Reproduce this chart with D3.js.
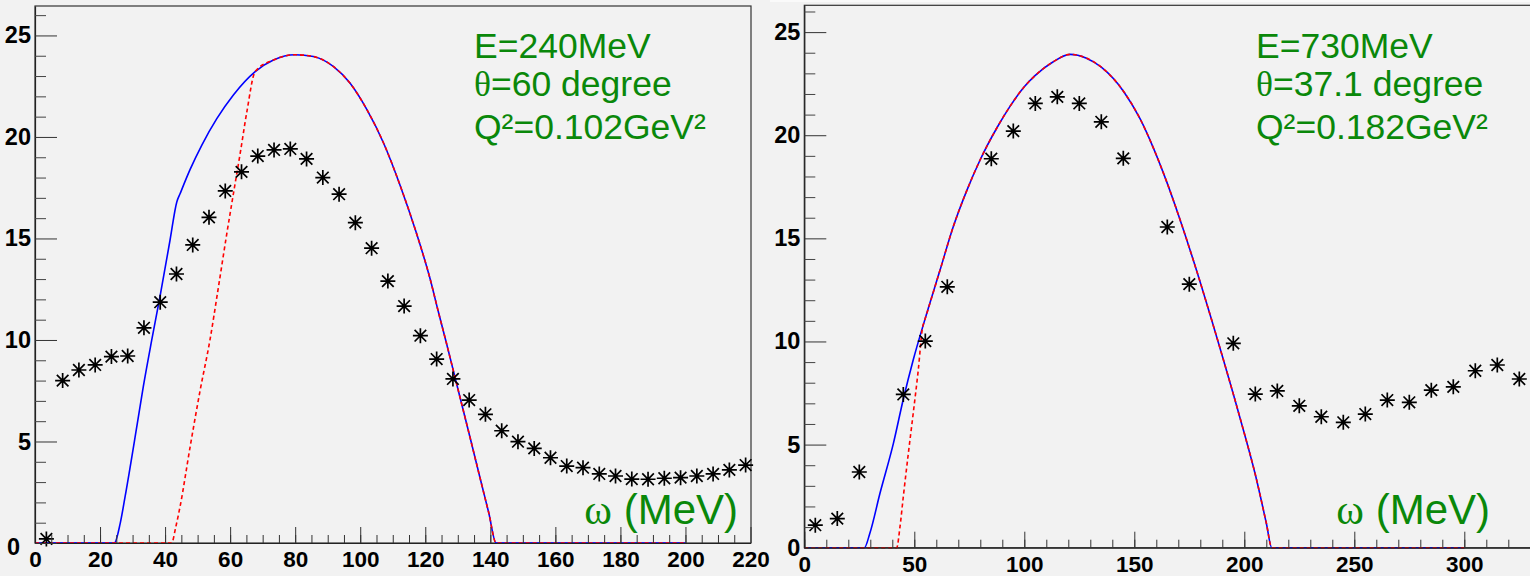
<!DOCTYPE html>
<html><head><meta charset="utf-8">
<script src="https://cdn.jsdelivr.net/npm/d3@7"></script>
<style>
html,body{margin:0;padding:0;background:#f2f2f2;overflow:hidden;}
svg{display:block;}
</style></head><body>
<svg id="chart" width="1530" height="576"></svg>
<script>
// ---------- Data: left panel (E=240 MeV) ----------
const omega240 = [3.5,8.5,13.5,18.5,23.5,28.5,33.5,38.5,43.5,48.5,53.5,58.5,63.5,68.5,73.5,78.5,83.5,88.5,93.5,98.5,103.5,108.5,113.5,118.5,123.5,128.5,133.5,138.5,143.5,148.5,153.5,158.5,163.5,168.5,173.5,178.5,183.5,188.5,193.5,198.5,203.5,208.5,213.5,218.5];
const xsec240 = [0.2,8.0,8.52,8.77,9.18,9.21,10.6,11.86,13.25,14.68,16.04,17.34,18.28,19.06,19.36,19.41,18.92,18.0,17.18,15.78,14.52,12.9,11.67,10.21,9.06,8.08,7.04,6.34,5.53,4.99,4.66,4.2,3.79,3.71,3.40,3.30,3.15,3.14,3.19,3.22,3.30,3.40,3.60,3.84];
const blue240 = [[0,0],[24.4,0],[26.2,0.97],[27.7,2.28],[31.3,5.73],[33.3,7.7],[35.9,10.0],[38.5,12.2],[41.5,14.9],[43.6,16.8],[44.6,17.2],[47.7,18.4],[51.3,19.6],[55.9,20.9],[61.0,22.07],[67.7,23.22],[73.3,23.79],[80,24.05],[85.6,23.96],[91.8,23.46],[96.9,22.64],[102.1,21.33],[107.2,19.69],[112.3,17.6],[117,15.4],[121.5,13.0],[124,11.4],[126.5,9.85],[129,8.25],[131.5,6.65],[134,5.05],[137,3.1],[139.5,1.5],[141.8,0],[200,0]];
const red240 = [[0,0],[42,0],[43.3,0.8],[44.6,1.79],[47.7,4.74],[50.8,7.54],[53.8,10.0],[56.2,12.4],[59.0,15.26],[61.0,17.2],[63.1,19.2],[65.1,21.2],[67.7,23.22],[73.3,23.79],[80,24.05],[85.6,23.96],[91.8,23.46],[96.9,22.64],[102.1,21.33],[107.2,19.69],[112.3,17.6],[117,15.4],[121.5,13.0],[124,11.4],[126.5,9.85],[129,8.25],[131.5,6.65],[134,5.05],[137,3.1],[139.5,1.5],[141.8,0],[200,0]];
const legend240 = ["E=240MeV","θ=60 degree","Q²=0.102GeV²"];
const xMajor240 = [0,20,40,60,80,100,120,140,160,180,200,220];
const xMinor240 = [0,5,10,15,20,25,30,35,40,45,50,55,60,65,70,75,80,85,90,95,100,105,110,115,120,125,130,135,140,145,150,155,160,165,170,175,180,185,190,195,200,205,210,215];
const yMajor = [0,5,10,15,20,25];
const yMinor = [1,2,3,4,6,7,8,9,11,12,13,14,16,17,18,19,21,22,23,24,26];

// ---------- Data: right panel (E=730 MeV) ----------
const omega730 = [5,15,25,45,55,65,85,95,105,115,125,135,145,165,175,195,205,215,225,235,245,255,265,275,285,295,305,315,325];
const xsec730 = [1.09,1.41,3.67,7.43,10.02,12.65,18.86,20.2,21.54,21.86,21.54,20.65,18.88,15.55,12.78,9.91,7.45,7.6,6.88,6.35,6.08,6.48,7.16,7.05,7.64,7.8,8.58,8.86,8.18];
const blue730 = [[0,0],[27.3,0],[29.8,0.7],[34.4,2.64],[40.5,5.06],[45,7.2],[49.5,9.1],[54.5,10.95],[61.7,13.46],[67.7,15.56],[73.8,17.3],[79.9,18.8],[87.5,20.35],[93.5,21.4],[100,22.35],[105,22.9],[113,23.55],[120.8,23.92],[128,23.75],[135,23.3],[145.3,22.1],[152.6,20.8],[158.6,19.4],[164.7,17.75],[170.8,15.9],[176.8,13.95],[185,11.1],[190,9.3],[195,7.45],[200,5.55],[205,3.55],[210,1.2],[212.5,0],[300,0]];
const red730 = [[0,0],[42,0],[43.5,1.02],[45,2.47],[47.3,4.58],[49.5,6.51],[51.8,8.61],[53.8,10.71],[54.5,10.95],[61.7,13.46],[67.7,15.56],[73.8,17.3],[79.9,18.8],[87.5,20.35],[93.5,21.4],[100,22.35],[105,22.9],[113,23.55],[120.8,23.92],[128,23.75],[135,23.3],[145.3,22.1],[152.6,20.8],[158.6,19.4],[164.7,17.75],[170.8,15.9],[176.8,13.95],[185,11.1],[190,9.3],[195,7.45],[200,5.55],[205,3.55],[210,1.2],[212.5,0],[300,0]];
const legend730 = ["E=730MeV","θ=37.1 degree","Q²=0.182GeV²"];
const xMajor730 = [0,50,100,150,200,250,300];
const xMinor730 = [0,10,20,30,40,50,60,70,80,90,100,110,120,130,140,150,160,170,180,190,200,210,220,230,240,250,260,270,280,290,300,310,320];
const axisTitle = "ω (MeV)";

// ---------- Drawing ----------
const svg = d3.select('#chart');
svg.append('rect').attr('width',1530).attr('height',576).attr('fill','#f2f2f2');
svg.append('rect').attr('x',770).attr('y',0).attr('width',760).attr('height',2).attr('fill','#fafafa');

const SANS = '"Liberation Sans", Arial, Helvetica, sans-serif';
const SERIF = '"Liberation Serif", "Times New Roman", serif';
const GREEN = '#0a880a';
const STAR = 'M-7.5,0H7.5M0,-7.5V7.5M-5.8,-5.8L5.8,5.8M-5.8,5.8L5.8,-5.8';

function panel(c) {
  const x = d3.scaleLinear().domain(c.xDomain).range(c.xRange);
  const y = d3.scaleLinear().domain(c.yDomain).range(c.yRange);
  const g = svg.append('g');

  // frame
  g.append('rect')
    .attr('x', c.xRange[0]).attr('y', c.yRange[1])
    .attr('width', c.frameRight - c.xRange[0]).attr('height', c.yRange[0] - c.yRange[1])
    .attr('fill', 'none').attr('stroke', '#333').attr('stroke-width', 1.2);

  // curves
  const line = d3.line().x(d => x(d[0])).y(d => y(d[1])).curve(d3.curveMonotoneX);
  g.append('path').datum(c.blue).attr('d', line)
    .attr('fill','none').attr('stroke','#0000ff').attr('stroke-width',1.6);
  g.append('path').datum(c.red).attr('d', line)
    .attr('fill','none').attr('stroke','#ff0000').attr('stroke-width',1.6)
    .attr('stroke-dasharray','4,3');

  // data points
  g.append('g').selectAll('path').data(c.omega).join('path')
    .attr('d', STAR)
    .attr('transform', (d,i) => `translate(${x(d)},${y(c.xsec[i])})`)
    .attr('fill','none').attr('stroke','#000').attr('stroke-width',1.7);

  // x axis
  const gxMin = g.append('g').attr('transform', `translate(0,${c.yRange[0]})`)
    .call(d3.axisBottom(x).tickValues(c.xMinor).tickSize(-8).tickSizeOuter(0).tickFormat(''));
  gxMin.selectAll('line').attr('stroke','#333');
  gxMin.select('.domain').attr('stroke','#222').attr('stroke-width',1.2);
  const gx = g.append('g').attr('transform', `translate(0,${c.yRange[0]})`)
    .call(d3.axisBottom(x).tickValues(c.xMajor).tickSize(-16).tickSizeOuter(0).tickPadding(8).tickFormat(d3.format('d')));
  gx.select('.domain').remove();
  gx.selectAll('line').attr('stroke','#333');
  gx.selectAll('text').attr('font-family', SANS).attr('font-weight','bold')
    .attr('font-size', 22.5).attr('fill','#000');

  // y axis
  const gyMin = g.append('g').attr('transform', `translate(${c.xRange[0]},0)`)
    .call(d3.axisLeft(y).tickValues(c.yMinor).tickSize(-11).tickSizeOuter(0).tickFormat(''));
  gyMin.selectAll('line').attr('stroke','#444');
  gyMin.select('.domain').attr('stroke','#222').attr('stroke-width',1.2);
  const gy = g.append('g').attr('transform', `translate(${c.xRange[0]},0)`)
    .call(d3.axisLeft(y).tickValues(c.yMajor).tickSize(-22).tickSizeOuter(0).tickPadding(4).tickFormat(d3.format('d')));
  gy.select('.domain').remove();
  gy.selectAll('line').attr('stroke','#333');
  gy.selectAll('text').attr('font-family', SANS).attr('font-weight','bold')
    .attr('font-size', 23.5).attr('fill','#000');
  if (c.shiftZero) {
    gy.selectAll('.tick').filter(d => d === 0).select('text').attr('x', -15).attr('dy','0.5em');
  }

  // legend
  c.legend.forEach((s, i) => {
    const t = g.append('text').attr('x', c.legendX).attr('y', c.legendY[i])
      .attr('font-family', SANS).attr('font-size', 35.5).attr('fill', GREEN);
    s.split(/(θ)/).filter(p => p.length).forEach(p => {
      t.append('tspan').attr('font-family', p === 'θ' ? SERIF : SANS).text(p);
    });
  });

  // axis title
  const tt = g.append('text').attr('x', c.titleX).attr('y', c.titleY)
    .attr('text-anchor','end').attr('font-size', 42).attr('fill', GREEN);
  axisTitle.split(/(ω)/).filter(p => p.length).forEach(p => {
    tt.append('tspan').attr('font-family', p === 'ω' ? SERIF : SANS).text(p);
  });
}

panel({
  xDomain:[0,220], xRange:[35,750.5], yDomain:[0,26.45], yRange:[543,6], frameRight:751,
  xMajor:xMajor240, xMinor:xMinor240, yMajor:yMajor, yMinor:yMinor,
  omega:omega240, xsec:xsec240, blue:blue240, red:red240,
  legend:legend240, legendX:474, legendY:[58.3,96,139.3],
  titleX:738, titleY:523.5, shiftZero:true
});
panel({
  xDomain:[0,330], xRange:[804.3,1530.3], yDomain:[0,26.3], yRange:[547.7,5.3], frameRight:1532,
  xMajor:xMajor730, xMinor:xMinor730, yMajor:yMajor, yMinor:yMinor,
  omega:omega730, xsec:xsec730, blue:blue730, red:red730,
  legend:legend730, legendX:1256, legendY:[58.3,96,139.3],
  titleX:1490, titleY:523.5, shiftZero:false
});
</script>
</body></html>
